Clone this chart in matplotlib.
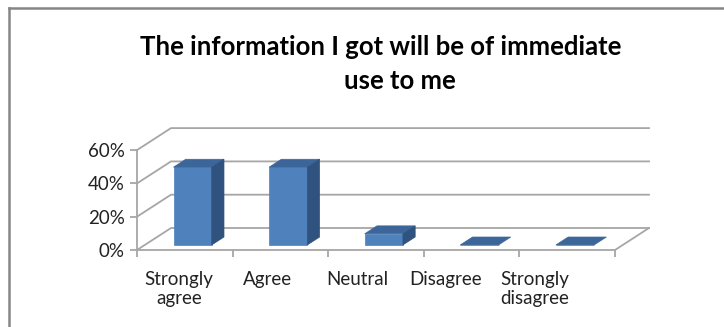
import numpy as np
import matplotlib
matplotlib.use("Agg")
import matplotlib.pyplot as plt
from matplotlib.patches import Polygon
from matplotlib.ticker import PercentFormatter

CATEGORIES = ["Strongly\nagree", "Agree", "Neutral", "Disagree", "Strongly\ndisagree"]
VALUES     = [0.467, 0.467, 0.067, 0.0, 0.0]
Y_TICKS    = [0.0, 0.2, 0.4, 0.6]
TITLE      = ["The information I got will be of immediate", "use to me"]

FRONT = "#4F81BD"
TOP   = "#3C6699"
SIDE  = "#30527E"
GRID  = "#A6A6A6"

W, H = 724, 327
fig = plt.figure(figsize=(W / 100, H / 100), dpi=100)
plt.rcParams["font.family"] = ["Lato", "DejaVu Sans"]

# front plane of the 3d box in pixels
x0_px, x1_px, y0_px = 137, 615, 250
px_per_val = 166.5
ax = fig.add_axes([x0_px / W, (H - y0_px) / H, (x1_px - x0_px) / W, 0.6 * px_per_val / H])
ax.set_xlim(0, len(CATEGORIES))
ax.set_ylim(0, 0.6)
n = len(CATEGORIES)
slot_px = (x1_px - x0_px) / n

# depth of the back wall, in data units
dx = 34 / slot_px
dy = 22 / px_per_val

# back wall + left wall gridlines
for v in Y_TICKS:
    ax.plot([0, dx, n + dx], [v, v + dy, v + dy], color=GRID, lw=1.3,
            clip_on=False, zorder=1)
ax.plot([n, n + dx], [0, dy], color=GRID, lw=1.3, clip_on=False, zorder=1)

# bars
d0, d1 = 0.23, 0.59
bw = 0.4
xs = np.arange(n) + 0.5 + d0 * dx
ax.bar(xs, VALUES, bottom=d0 * dy, width=bw, color=FRONT, zorder=3,
       edgecolor=FRONT, lw=0.5)
ddx, ddy = (d1 - d0) * dx, (d1 - d0) * dy
for xc, v in zip(xs, VALUES):
    l, r = xc - bw / 2, xc + bw / 2
    b, t = d0 * dy, d0 * dy + v
    top = Polygon([(l, t), (r, t), (r + ddx, t + ddy), (l + ddx, t + ddy)],
                  closed=True, fc=TOP, ec=TOP, lw=0.5, zorder=4, clip_on=False)
    ax.add_patch(top)
    if v > 0:
        side = Polygon([(r, b), (r, t), (r + ddx, t + ddy), (r + ddx, b + ddy)],
                       closed=True, fc=SIDE, ec=SIDE, lw=0.5, zorder=4, clip_on=False)
        ax.add_patch(side)

for s in ("top", "right"):
    ax.spines[s].set_visible(False)
for s in ("left", "bottom"):
    ax.spines[s].set_color(GRID)
    ax.spines[s].set_linewidth(1.3)

ax.set_yticks(Y_TICKS)
ax.yaxis.set_major_formatter(PercentFormatter(1.0, decimals=0))
ax.tick_params(axis="y", length=5, width=1.3, color=GRID, labelsize=13.5,
               labelcolor="#222222", pad=4)

ax.set_xticks(np.arange(n + 1), minor=True)
ax.set_xticks(0.44 + 0.93 * np.arange(n))
ax.set_xticklabels(CATEGORIES, fontsize=13.5, color="#222222", linespacing=1.12,
                   multialignment="center")
ax.tick_params(axis="x", which="major", length=0, pad=15)
ax.tick_params(axis="x", which="minor", length=5, width=1.3, color=GRID)
ax.set_facecolor("none")

fig.text(381 / W, 1 - 47 / H, TITLE[0], ha="center", va="center", fontsize=18.5,
         fontweight="bold")
fig.text(400 / W, 1 - 81 / H, TITLE[1], ha="center", va="center", fontsize=18.5,
         fontweight="bold")

# chart frame (only top and left visible)
fig.add_artist(plt.Line2D([8.5 / W, 8.5 / W], [0, 1 - 7.5 / H], color="#868686",
                          lw=1.8, transform=fig.transFigure))
fig.add_artist(plt.Line2D([8.5 / W, 1], [1 - 7.5 / H, 1 - 7.5 / H], color="#868686",
                          lw=1.8, transform=fig.transFigure))

fig.savefig("out.png", dpi=100)
